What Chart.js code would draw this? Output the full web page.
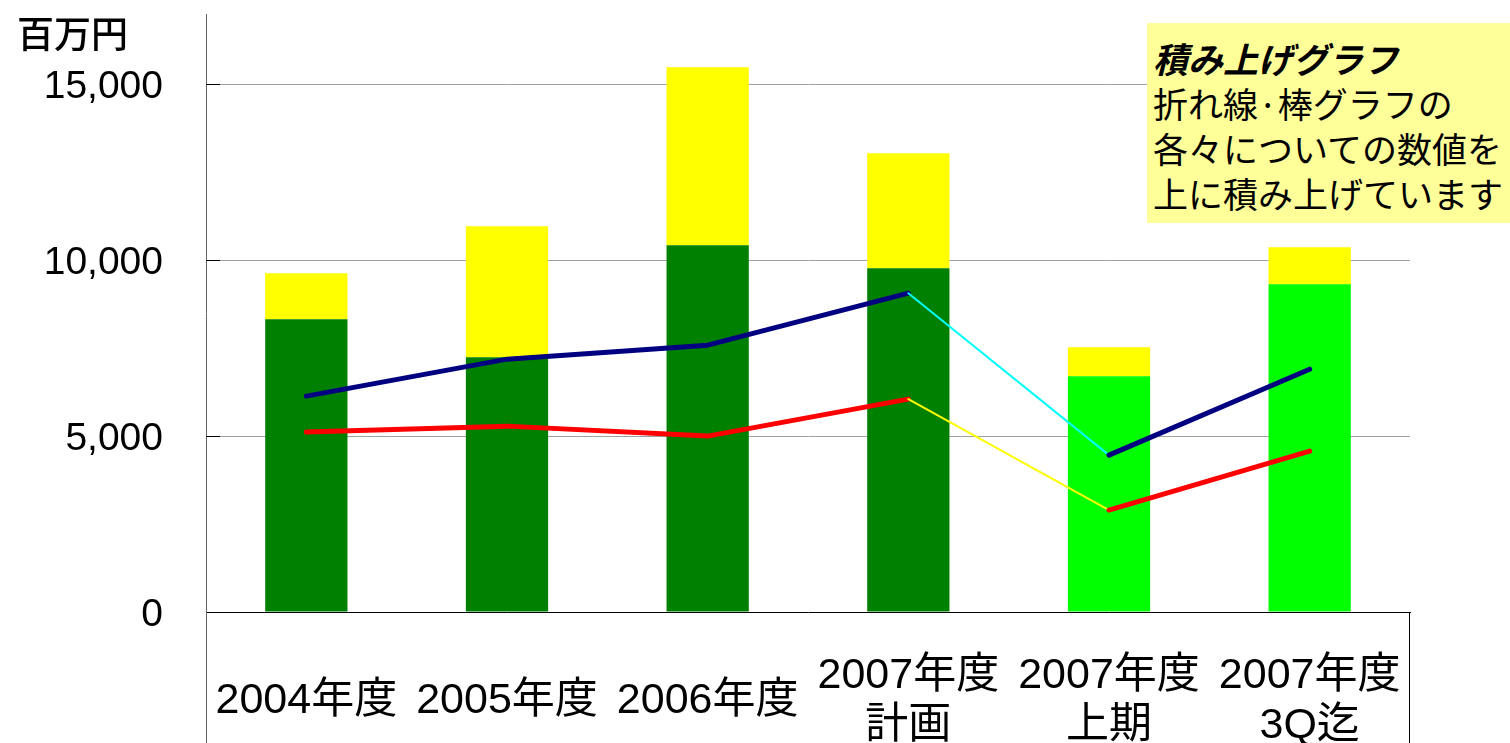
<!DOCTYPE html>
<html>
<head>
<meta charset="utf-8">
<script src="https://cdn.jsdelivr.net/npm/chart.js@4/dist/chart.umd.min.js"></script>
<style>
  html, body { margin: 0; padding: 0; background: #fff; width: 1510px; height: 743px; overflow: hidden; }
  #wrap { position: relative; width: 1510px; height: 743px; }
  canvas { position: absolute; left: 0; top: 0; }
  .unit { position: absolute; left: 17px; top: 12px; font: 500 37px/40px "Noto Sans CJK JP", sans-serif; color: #000; }
  .note { position: absolute; left: 1147px; top: 23px; width: 357px; height: 188px; background: #FFFF99;
          padding: 12px 0 0 6px; font: 35px/45px "Noto Sans CJK JP", sans-serif; color: #000; white-space: nowrap; }
  .note b { font-style: italic; font-weight: bold; }
</style>
</head>
<body>
<div id="wrap">
  <canvas id="c" width="1510" height="743"></canvas>
  <div class="unit">百万円</div>
  <div class="note"><b>積み上げグラフ</b><br>折れ線·棒グラフの<br>各々についての数値を<br>上に積み上げています</div>
</div>
<script>
// ---- data ----
const categories = [['2004年度'], ['2005年度'], ['2006年度'], ['2007年度', '計画'], ['2007年度', '上期'], ['2007年度', '3Q迄']];
const barBase = [8324, 7244, 10426, 9773, 6705, 9318];
const barAdd = [1307, 3722, 5057, 3267, 823, 1051];
const lineNavy = [6136, 7188, 7585, 9063, 4460, 6903];
const lineRed = [5114, 5284, 5000, 6051, 2898, 4574];
const yTicks = [0, 5000, 10000, 15000];

const FONT = '"Liberation Sans", "Noto Sans CJK JP", sans-serif';
const baseColors = ['#008000', '#008000', '#008000', '#008000', '#00FF00', '#00FF00'];

const frame = {
  id: 'frame',
  afterDraw(chart) {
    const { ctx, chartArea: a } = chart;
    const H = chart.height;
    ctx.save();
    ctx.lineWidth = 1;
    ctx.strokeStyle = '#666';
    ctx.beginPath();
    ctx.moveTo(a.left + 0.5, a.bottom);
    ctx.lineTo(a.left + 0.5, H);
    ctx.stroke();
    ctx.strokeStyle = '#000';
    ctx.beginPath();
    ctx.moveTo(a.right - 0.5, a.bottom);
    ctx.lineTo(a.right - 0.5, H);
    ctx.stroke();
    const ys = chart.scales.y;
    ctx.beginPath();
    yTicks.forEach(v => {
      if (v === 0) return;
      const py = Math.round(ys.getPixelForValue(v)) + 0.5;
      ctx.moveTo(a.left, py);
      ctx.lineTo(a.left + 14, py);
    });
    ctx.stroke();
    ctx.restore();
  }
};

new Chart(document.getElementById('c'), {
  data: {
    labels: categories,
    datasets: [
      { type: 'line', data: lineNavy, borderColor: '#000080', borderWidth: 5, pointRadius: 0, stack: 'navy', order: 1,
        borderCapStyle: 'round', borderJoinStyle: 'round',
        segment: { borderColor: c => c.p0DataIndex === 3 ? '#00FFFF' : '#000080', borderWidth: c => c.p0DataIndex === 3 ? 2 : 5 } },
      { type: 'line', data: lineRed, borderColor: '#FF0000', borderWidth: 5, pointRadius: 0, stack: 'red', order: 1,
        borderCapStyle: 'round', borderJoinStyle: 'round',
        segment: { borderColor: c => c.p0DataIndex === 3 ? '#FFFF00' : '#FF0000', borderWidth: c => c.p0DataIndex === 3 ? 2 : 5 } },
      { type: 'bar', data: barBase, backgroundColor: baseColors, stack: 'bars', order: 2,
        categoryPercentage: 1, barPercentage: 0.41 },
      { type: 'bar', data: barAdd, backgroundColor: '#FFFF00', stack: 'bars', order: 2,
        categoryPercentage: 1, barPercentage: 0.41 }
    ]
  },
  options: {
    responsive: false,
    animation: false,
    layout: { padding: { top: 14, right: 100, left: 0, bottom: 0 } },
    plugins: { legend: { display: false }, tooltip: { enabled: false } },
    scales: {
      x: {
        stacked: true,
        grid: { color: 'rgba(0,0,0,0)', drawTicks: false },
        border: { color: '#000', width: 1 },
        ticks: { color: '#000', font: { family: FONT, size: 43, lineHeight: 1.16 }, padding: 64,
                 crossAlign: 'center', maxRotation: 0, autoSkip: false },
        afterFit: s => { s.height = 131; s.paddingLeft = 0; s.paddingRight = 0; s.paddingTop = 0; s.paddingBottom = 0; }
      },
      y: {
        stacked: true,
        min: 0, max: 17000,
        afterBuildTicks: s => { s.ticks = yTicks.map(v => ({ value: v })); },
        grid: { color: c => (c.tick && c.tick.value === 0) ? 'rgba(0,0,0,0)' : '#a0a0a0', drawTicks: false },
        border: { color: '#666', width: 1 },
        ticks: { color: '#000', padding: 43, labelOffset: 3, font: { family: FONT, size: 39 },
                 callback: v => v.toLocaleString('en-US') },
        afterFit: s => { s.width = 206; s.paddingTop = 0; s.paddingBottom = 0; s.paddingLeft = 0; s.paddingRight = 0; }
      }
    }
  },
  plugins: [frame]
});
</script>
</body>
</html>
